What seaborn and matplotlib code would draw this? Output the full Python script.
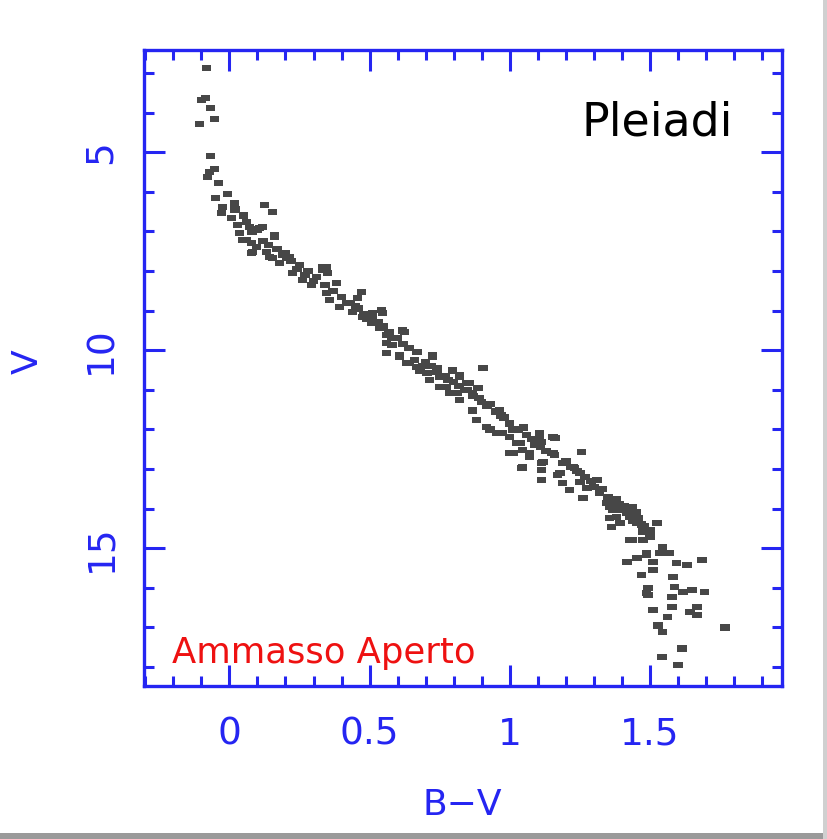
import matplotlib
matplotlib.use("Agg")
import matplotlib.pyplot as plt
import seaborn as sns
import pandas as pd
from matplotlib.ticker import MultipleLocator
from matplotlib.patches import Rectangle

# B-V colour index of the Pleiades members
bv = [
    -0.082, -0.10, -0.086, -0.068, -0.054, -0.107, -0.068, -0.054, -0.071, -0.079,
    -0.039, -0.007, -0.05, 0.018, -0.025, -0.029, 0.125, 0.154, 0.007, 0.029,
    0.061, 0.107, 0.161, 0.036, 0.046, 0.079, 0.096, 0.079, 0.132, 0.154,
    0.179, 0.204, 0.346, 0.332,
    0.071, 0.118, 0.161, 0.061, 0.082, 0.143, 0.179, 0.214, 0.225, 0.261,
    0.293, 0.332, 0.35, 0.382, 0.346, 0.357, 0.393, 0.471, 0.457, 0.439,
    0.475, 0.511, 0.543, 0.507, 0.536, 0.561, 0.579, 0.561, 0.618, 0.607,
    0.632, 0.668, 0.725, 0.704, 0.75, 0.796, 0.821, 0.846, 0.775, 0.811, 0.868,
    0.546, 0.561, 0.625, 0.607, 0.643, 0.679, 0.725, 0.714, 0.75, 0.796,
    0.821, 0.786, 0.821, 0.857, 0.886, 0.904, 0.868, 0.882, 0.964, 0.929,
    0.975, 1.011, 1.036, 1.0, 1.071, 1.046, 1.107, 1.154, 1.114, 1.154,
    1.179, 1.225,
    0.964, 0.918, 0.954, 1.0, 1.025, 1.011, 1.046, 1.071, 1.043, 1.107,
    1.114, 1.161, 1.15, 1.118, 1.114, 1.257, 1.114, 1.171, 1.189, 1.232,
    1.25, 1.214, 1.275, 1.311, 1.321, 1.261, 1.346, 1.368, 1.404, 1.429,
    1.357, 1.393, 1.454, 1.525, 1.475, 1.436, 1.5, 1.546, 1.489, 1.536,
    1.571, 1.418, 1.439,
    1.357, 1.382, 1.418, 1.439, 1.364, 1.475, 1.525, 1.429, 1.475, 1.5,
    1.546, 1.418, 1.454, 1.489, 1.511, 1.561, 1.596, 1.632, 1.686, 1.471,
    1.511, 1.582, 1.493, 1.493, 1.489, 1.589, 1.579, 1.618, 1.65, 1.696,
    1.511, 1.579, 1.564, 1.643, 1.668, 1.668, 1.529, 1.546, 1.768, 1.614,
    1.543, 1.6,
    0.10, 0.12, 0.20, 0.24, 0.27, 0.30, 0.42, 0.45, 0.49, 0.52,
    0.58, 0.66, 0.69, 0.74, 0.78, 0.84, 0.89, 0.93, 0.98, 1.05,
    1.09, 1.20, 1.24, 1.29, 1.33, 1.38, 1.41, 1.45,
    0.02, 0.05, 0.08, 0.14, 0.17, 0.19, 0.22, 0.25, 0.28, 0.31,
    0.34, 0.37, 0.40, 0.43, 0.46, 0.48, 0.51, 0.53, 0.55, 0.57,
    0.60, 0.62, 0.64, 0.67, 0.70, 0.72, 0.74, 0.77, 0.80, 0.82,
    0.85, 0.87, 0.90, 0.92, 0.95, 0.97, 1.00, 1.03, 1.06, 1.08,
    1.11, 1.13, 1.16, 1.19, 1.22, 1.25, 1.27, 1.30, 1.32, 1.35,
    1.37, 1.39, 1.40, 1.42, 1.43, 1.44, 1.46, 1.47, 1.48, 1.50,
]

# V magnitude
vmag = [
    2.88, 3.69, 3.64, 3.89, 4.17, 4.29, 5.10, 5.43, 5.50, 5.63,
    5.78, 6.06, 6.16, 6.29, 6.39, 6.54, 6.34, 6.52, 6.67, 6.84,
    6.77, 6.92, 7.15, 7.05, 7.22, 7.30, 7.40, 7.55, 7.53, 7.68,
    7.80, 7.68, 7.90, 7.98,
    6.89, 6.89, 7.10, 7.22, 7.53, 7.65, 7.80, 7.65, 8.06, 8.23,
    8.36, 7.90, 8.06, 8.31, 8.56, 8.74, 8.91, 8.54, 8.69, 9.04,
    9.17, 9.07, 8.99, 9.32, 9.44, 9.62, 9.87, 10.08, 9.50, 10.13,
    10.33, 10.43, 10.13, 10.58, 10.68, 10.51, 10.63, 10.83, 10.93, 11.09, 11.09,
    9.07, 9.82, 9.55, 10.18, 10.33, 10.51, 10.18, 10.76, 10.93, 10.51,
    10.68, 11.09, 11.26, 10.83, 10.96, 10.45, 11.52, 11.77, 11.52, 12.0,
    12.1, 12.02, 12.35, 12.6, 12.6, 12.95, 12.2, 12.2, 12.85, 12.6,
    13.1, 12.95,
    11.52, 11.94, 12.1, 12.2, 12.35, 12.6, 12.52, 12.7, 12.98, 12.1,
    12.32, 12.22, 12.6, 12.83, 13.03, 12.58, 13.28, 13.16, 13.36, 12.98,
    13.33, 13.54, 13.48, 13.28, 13.61, 13.74, 13.86, 14.04, 14.04, 14.22,
    14.24, 14.37, 14.37, 14.37, 14.6, 14.8, 14.72, 14.97, 15.13, 15.13,
    15.13, 14.12, 13.96,
    13.96, 14.22, 14.04, 14.29, 14.47, 14.47, 14.37, 14.8, 14.8, 14.62,
    14.97, 15.35, 15.25, 15.18, 15.35, 15.13, 15.38, 15.43, 15.3, 15.68,
    15.55, 15.73, 16.01, 16.19, 16.14, 15.98, 16.24, 16.11, 16.06, 16.11,
    16.57, 16.49, 16.74, 16.62, 16.69, 16.49, 16.95, 17.12, 17.0, 17.53,
    17.75, 17.95,
    6.95, 7.25, 7.55, 7.95, 8.10, 8.25, 8.80, 8.90, 9.20, 9.30,
    9.70, 10.25, 10.40, 10.55, 10.75, 11.00, 11.20, 11.35, 11.70, 11.95,
    12.40, 12.80, 13.05, 13.30, 13.50, 13.75, 13.95, 14.10,
    6.45, 6.60, 7.00, 7.35, 7.45, 7.60, 7.75, 7.85, 8.00, 8.15,
    8.35, 8.50, 8.65, 8.80, 8.95, 9.10, 9.15, 9.30, 9.40, 9.55,
    9.70, 9.85, 9.95, 10.05, 10.30, 10.40, 10.45, 10.65, 10.80, 10.90,
    11.00, 11.15, 11.30, 11.40, 11.55, 11.65, 11.85, 12.00, 12.15, 12.25,
    12.45, 12.55, 12.65, 12.85, 12.95, 13.10, 13.20, 13.45, 13.55, 13.70,
    13.80, 13.90, 14.00, 14.10, 14.15, 14.30, 14.25, 14.40, 14.45, 14.55,
]

xticks = [0, 0.5, 1, 1.5]
xticklabels = ["0", "0.5", "1", "1.5"]
yticks = [5, 10, 15]
yticklabels = ["5", "10", "15"]

df = pd.DataFrame({"B-V": bv, "V": vmag})

sns.set_style("white")
plt.rcParams["font.family"] = ["DejaVu Sans"]

BLUE = "#2525f2"
fig = plt.figure(figsize=(8.28, 8.39), dpi=100)
ax = fig.add_axes([144 / 828, 1 - 686 / 839, (782 - 144) / 828, (686 - 50) / 839])

rect_marker = [(-1, -0.65), (1, -0.65), (1, 0.65), (-1, 0.65)]
sns.scatterplot(data=df, x="B-V", y="V", ax=ax, marker=rect_marker, s=48,
                color="#474747", edgecolor="none", linewidth=0)

ax.set_xlim(-0.305, 1.972)
ax.set_ylim(18.48, 2.42)

ax.set_xticks(xticks)
ax.set_xticklabels(xticklabels)
ax.set_yticks(yticks)
ax.set_yticklabels(yticklabels, rotation=90, va="center")
ax.xaxis.set_minor_locator(MultipleLocator(0.1))
ax.yaxis.set_minor_locator(MultipleLocator(1))
ax.tick_params(which="both", direction="in", top=True, right=True, bottom=True, left=True,
               color=BLUE, width=2.2)
ax.tick_params(which="major", length=15, labelsize=27, labelcolor=BLUE)
ax.tick_params(axis="x", which="major", pad=22)
ax.tick_params(axis="y", which="major", pad=18)
ax.tick_params(which="minor", length=7)
for sp in ax.spines.values():
    sp.set_color(BLUE)
    sp.set_linewidth(2.4)
    sp.set_visible(True)
ax.set_xlabel("")
ax.set_ylabel("")

fig.text(28 / 828, 1 - 362 / 839, "V", color=BLUE, fontsize=26, rotation=90,
         ha="center", va="center")
fig.text(462 / 828, 1 - 805 / 839, "B\u2212V", color=BLUE, fontsize=26,
         ha="center", va="center")

ax.text(0.805, 0.885, "Pleiadi", transform=ax.transAxes, fontsize=33, color="black",
        ha="center", va="center")
fig.text(172 / 828, 1 - 663 / 839, "Ammasso Aperto", color="#ee1111", fontsize=25.5,
         ha="left", va="baseline")

# grey frame shadow of the original image
fig.patches.append(Rectangle((0, 0), 1, 6 / 839, transform=fig.transFigure,
                             facecolor="#9a9a9a", edgecolor="none"))
fig.patches.append(Rectangle((1 - 5 / 828, 0), 5 / 828, 1, transform=fig.transFigure,
                             facecolor="#d0d0d0", edgecolor="none"))

fig.savefig("out.png", dpi=100)
